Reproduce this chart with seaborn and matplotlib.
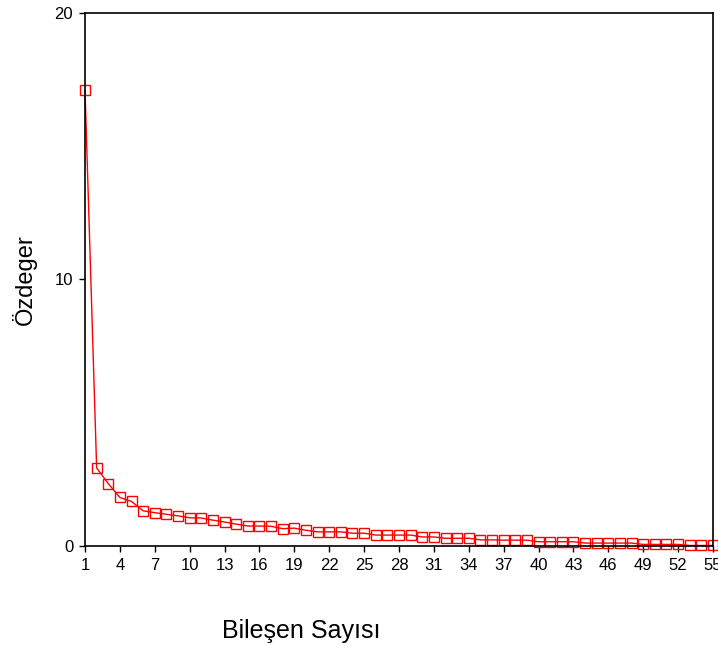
import numpy as np
import pandas as pd
import seaborn as sns
import matplotlib.pyplot as plt

# eigenvalues
bilesen = list(range(1, 56))
ozdeger = [17.1, 2.93, 2.34, 1.82, 1.67, 1.32, 1.25, 1.19, 1.13, 1.06,
           1.05, 0.97, 0.90, 0.82, 0.75, 0.75, 0.74, 0.65, 0.67, 0.59,
           0.53, 0.53, 0.53, 0.48, 0.48, 0.41, 0.41, 0.41, 0.41, 0.34,
           0.34, 0.29, 0.29, 0.29, 0.23, 0.23, 0.22, 0.22, 0.22, 0.16,
           0.16, 0.16, 0.16, 0.11, 0.11, 0.11, 0.11, 0.11, 0.06, 0.06,
           0.06, 0.06, 0.02, 0.02, 0.02]
x_ticks = list(range(1, 56, 3))
y_ticks = [0, 10, 20]

df = pd.DataFrame({"Bileşen Sayısı": bilesen, "Özdeger": ozdeger})

sns.set_style("ticks", {"text.color": "black", "axes.labelcolor": "black",
                        "xtick.color": "black", "ytick.color": "black"})
plt.rcParams['font.family'] = ['Liberation Sans', 'DejaVu Sans']

fig = plt.figure(figsize=(7.18, 6.49), dpi=100)
ax = fig.add_axes([0.1184, 0.1587, 0.8746, 0.8213])

sns.lineplot(data=df, x="Bileşen Sayısı", y="Özdeger", ax=ax,
             color="red", linewidth=1.0, marker="s", markersize=7,
             markerfacecolor="none", markeredgecolor="red",
             markeredgewidth=1.0, clip_on=False)

ax.set_xlim(1, 55)
ax.set_ylim(0, 20)
ax.set_xticks(x_ticks)
ax.set_yticks(y_ticks)
ax.tick_params(axis="both", labelsize=12, length=4.5, width=1, colors="black",
               direction="out", pad=4)
for s in ax.spines.values():
    s.set_visible(True)
    s.set_color("black")
    s.set_linewidth(1.2)

ax.set_xlabel("Bileşen Sayısı", fontsize=18, color="black")
ax.set_ylabel("Özdeger", fontsize=17, color="black")
# label positions as in the original
ax.xaxis.set_label_coords(0.345, -0.137)
ax.yaxis.set_label_coords(-0.077, 0.5)

fig.savefig("out.png", dpi=100)
